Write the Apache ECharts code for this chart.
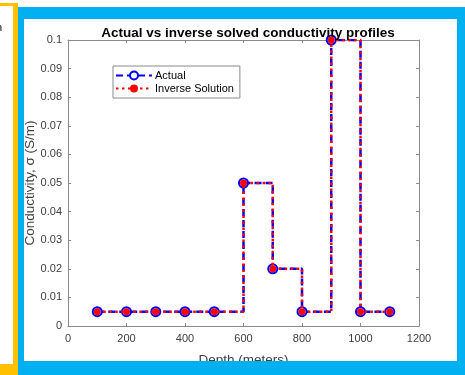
<!DOCTYPE html>
<html>
<head>
<meta charset="utf-8">
<script src="https://cdn.jsdelivr.net/npm/echarts@6/dist/echarts.min.js"></script>
<style>html,body{margin:0;padding:0;background:#fff;}#c{width:465px;height:375px;}</style>
</head>
<body>
<div id="c"></div>
<script>
var depth = [100, 200, 300, 400, 500, 600, 700, 800, 900, 1000, 1100];
var actual = [0.005, 0.005, 0.005, 0.005, 0.005, 0.05, 0.02, 0.005, 0.1, 0.005, 0.005];
var inverse = [0.005, 0.005, 0.005, 0.005, 0.005, 0.05, 0.02, 0.005, 0.1, 0.005, 0.005];
var xTicks = [0, 200, 400, 600, 800, 1000, 1200];
var yTicks = [0, 0.01, 0.02, 0.03, 0.04, 0.05, 0.06, 0.07, 0.08, 0.09, 0.1];

function pairs(xs, ys) { return xs.map(function (x, i) { return [x, ys[i]]; }); }

var chart = echarts.init(document.getElementById('c'), null, { renderer: 'canvas' });
var axisCol = '#8a8a8a';
var labCol = '#404040';
var font = 'Liberation Sans, Arial, Helvetica, sans-serif';

var xBase = {
  type: 'value', min: 0, max: 1200, interval: 200,
  axisLine: { show: true, onZero: false, lineStyle: { color: axisCol, width: 1 } },
  axisTick: { show: true, inside: true, length: 3, lineStyle: { color: axisCol } },
  splitLine: { show: false }
};
var yBase = {
  type: 'value', min: 0, max: 0.1, interval: 0.01,
  axisLine: { show: true, onZero: false, lineStyle: { color: axisCol, width: 1 } },
  axisTick: { show: true, inside: true, length: 3, lineStyle: { color: axisCol } },
  splitLine: { show: false }
};

chart.setOption({
  animation: false,
  backgroundColor: '#ffffff',
  title: {
    text: 'Actual vs inverse solved conductivity profiles',
    left: 243, textAlign: 'center', top: 21,
    textStyle: { fontFamily: font, fontSize: 13.5, fontWeight: 'bold', color: '#000' }
  },
  grid: { left: 68, right: 46, top: 40, bottom: 49, containLabel: false },
  legend: {
    orient: 'vertical', left: 113, top: 66,
    padding: [4, 6, 4, 2], itemGap: 2,
    itemWidth: 36, itemHeight: 10,
    borderColor: '#8a8a8a', borderWidth: 1, backgroundColor: '#fff',
    textStyle: { fontFamily: font, fontSize: 11, color: '#000', padding: [0, 0, 0, -2] },
    data: ['Actual', 'Inverse Solution']
  },
  xAxis: [
    Object.assign({}, xBase, {
      position: 'bottom',
      axisLabel: { show: true, color: labCol, fontFamily: font, fontSize: 11, margin: 7, formatter: function (v) { return xTicks.indexOf(v) >= 0 ? String(v) : ''; } },
      name: 'Depth (meters)', nameLocation: 'middle', nameGap: 27, nameMoveOverlap: false,
      nameTextStyle: { fontFamily: font, fontSize: 13.5, color: labCol }
    }),
    Object.assign({}, xBase, { position: 'top', axisLabel: { show: false } })
  ],
  yAxis: [
    Object.assign({}, yBase, {
      position: 'left',
      axisLabel: { show: true, color: labCol, fontFamily: font, fontSize: 11, margin: 6,
        formatter: function (v) { var r = Math.round(v * 100) / 100; return yTicks.indexOf(r) >= 0 ? String(r) : ''; } },
      name: 'Conductivity, \u03c3 (S/m)', nameLocation: 'middle', nameGap: 31, nameMoveOverlap: false,
      nameTextStyle: { fontFamily: font, fontSize: 13.5, color: labCol }
    }),
    Object.assign({}, yBase, { position: 'right', axisLabel: { show: false } })
  ],
  series: [
    {
      name: 'Actual', type: 'line', step: 'end',
      data: pairs(depth, actual),
      symbol: 'circle', symbolSize: 9,
      itemStyle: { color: '#ffffff', borderColor: '#0000ff', borderWidth: 2 },
      lineStyle: { color: '#0000ff', width: 2.5, type: [7, 4] },
      color: '#0000ff', z: 2
    },
    {
      name: 'Inverse Solution', type: 'line', step: 'end',
      data: pairs(depth, inverse),
      symbol: 'circle', symbolSize: 7,
      itemStyle: { color: '#ff0000', borderColor: '#ff0000', borderWidth: 0 },
      lineStyle: { color: '#ff0000', width: 2.5, type: [2.5, 3.5] },
      color: '#ff0000', z: 3
    }
  ],
  graphic: [
    { type: 'rect', z: 100, silent: true, shape: { x: 0, y: 3, width: 18, height: 372 }, style: { fill: '#ffc000' } },
    { type: 'rect', z: 101, silent: true, shape: { x: 0, y: 6, width: 13, height: 358 }, style: { fill: '#ffffff' } },
    { type: 'text', z: 102, silent: true, left: -4, top: 22, style: { text: 'n', fill: '#000', font: '11px ' + font } },
    { type: 'rect', z: 100, silent: true, shape: { x: 18, y: 7, width: 447, height: 12 }, style: { fill: '#00b0f0' } },
    { type: 'rect', z: 100, silent: true, shape: { x: 18, y: 7, width: 6, height: 368 }, style: { fill: '#00b0f0' } },
    { type: 'rect', z: 100, silent: true, shape: { x: 457, y: 7, width: 8, height: 368 }, style: { fill: '#00b0f0' } },
    { type: 'rect', z: 100, silent: true, shape: { x: 18, y: 361, width: 447, height: 14 }, style: { fill: '#00b0f0' } }
  ]
});
</script>
</body>
</html>
